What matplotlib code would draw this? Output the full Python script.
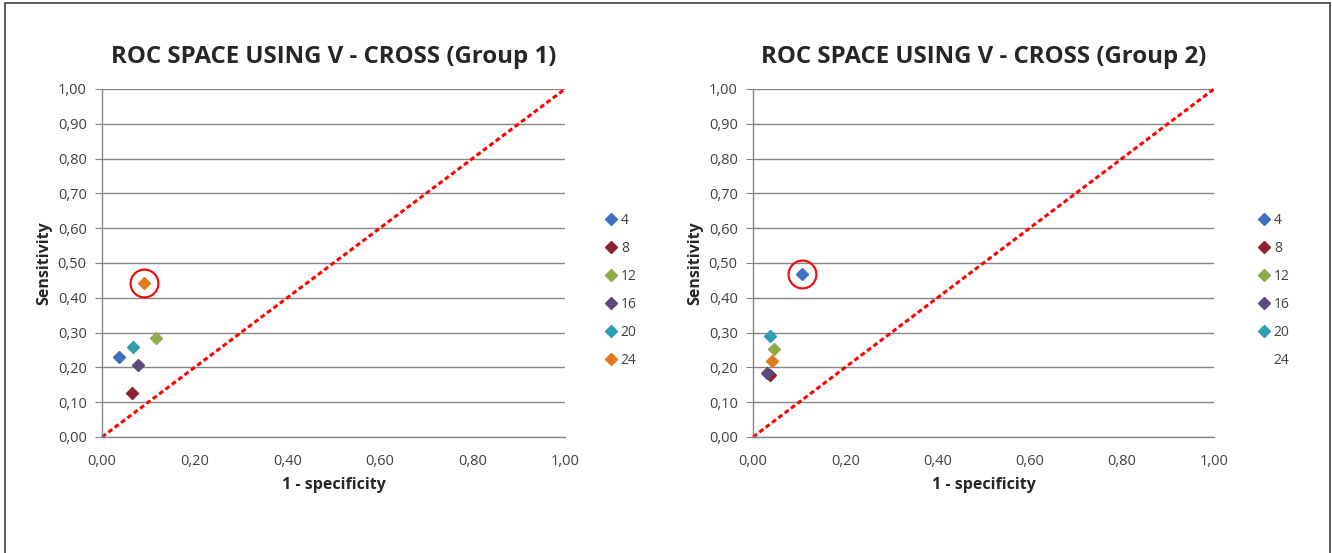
import matplotlib
matplotlib.use("Agg")
import matplotlib.pyplot as plt
from matplotlib.lines import Line2D
from matplotlib.patches import Rectangle
from matplotlib.ticker import FuncFormatter, MultipleLocator

plt.rcParams['font.family'] = ['Open Sans', 'DejaVu Sans']

series = ["4", "8", "12", "16", "20", "24"]
colors = ["#3F6FC0", "#8E2230", "#8FAB4A", "#5E4A7E", "#2E9FB0", "#E27A24"]

g1_x = [0.036, 0.065, 0.116, 0.078, 0.066, 0.091]
g1_y = [0.230, 0.127, 0.284, 0.206, 0.259, 0.442]
g2_x = [0.106, 0.037, 0.046, 0.031, 0.037, 0.041]
g2_y = [0.468, 0.177, 0.252, 0.183, 0.290, 0.217]

titles = ["ROC SPACE USING V - CROSS (Group 1)", "ROC SPACE USING V - CROSS (Group 2)"]
highlight = [5, 0]  # index of circled series
legend_marker_shown = [[True] * 6, [True, True, True, True, True, False]]

W, H = 1332, 553
fig = plt.figure(figsize=(W / 100, H / 100), dpi=100)
fig.patches.append(Rectangle((5 / W, -0.01), (1330 - 5) / W, (553 - 3) / H + 0.01,
                             transform=fig.transFigure, fill=False,
                             edgecolor="#404040", linewidth=1.2))

axes_px = [(102, 565), (753, 1214)]
top_px, bot_px = 89, 437
legend_x = [600, 1253]
fmt = FuncFormatter(lambda v, p: f"{v:.2f}".replace(".", ","))

for i, (xs, ys) in enumerate([(g1_x, g1_y), (g2_x, g2_y)]):
    l, r = axes_px[i]
    ax = fig.add_axes([l / W, (H - bot_px) / H, (r - l) / W, (bot_px - top_px) / H])
    ax.set_xlim(0, 1)
    ax.set_ylim(0, 1)
    ax.xaxis.set_major_locator(MultipleLocator(0.2))
    ax.yaxis.set_major_locator(MultipleLocator(0.1))
    ax.xaxis.set_major_formatter(fmt)
    ax.yaxis.set_major_formatter(fmt)
    ax.grid(axis="y", color="#868686", linewidth=1.0)
    ax.set_axisbelow(True)
    for s in ["top", "right"]:
        ax.spines[s].set_visible(False)
    for s in ["left", "bottom"]:
        ax.spines[s].set_color("#868686")
        ax.spines[s].set_linewidth(1.0)
    ax.tick_params(axis="y", length=5, color="#868686", labelsize=10.5,
                   labelcolor="#404040", pad=6)
    ax.tick_params(axis="x", length=0, labelsize=10.5, labelcolor="#404040", pad=12)
    ax.plot([0, 1], [0, 1], color="#FF0000", linewidth=2.2, linestyle=(0, (1.6, 1.0)),
            clip_on=False, zorder=2)
    handles = []
    for k in range(len(series)):
        ax.plot(xs[k], ys[k], marker="D", markersize=6.5, color=colors[k],
                linestyle="none", zorder=3, clip_on=False)
        handles.append(Line2D([], [], marker="D" if legend_marker_shown[i][k] else "None",
                              markersize=6.5, color=colors[k], linestyle="none",
                              label=series[k]))
    h = highlight[i]
    ax.plot(xs[h], ys[h], marker="o", markersize=20, markerfacecolor="none",
            markeredgecolor="#E81010", markeredgewidth=1.6, linestyle="none", zorder=4)
    ax.set_title(titles[i], fontsize=17.3, fontweight="bold", color="#262626", pad=19)
    ax.set_xlabel("1 - specificity", fontsize=11.5, fontweight="bold", color="#262626",
                  labelpad=6)
    ax.set_ylabel("Sensitivity", fontsize=11.5, fontweight="bold", color="#262626",
                  labelpad=4)
    fig.legend(handles=handles, loc="upper left",
               bbox_to_anchor=(legend_x[i] / W, (H - 206) / H), frameon=False,
               fontsize=10, labelcolor="#404040", handlelength=0.6, handletextpad=0.4,
               labelspacing=0.94, borderpad=0)

fig.savefig("out.png", dpi=100)
